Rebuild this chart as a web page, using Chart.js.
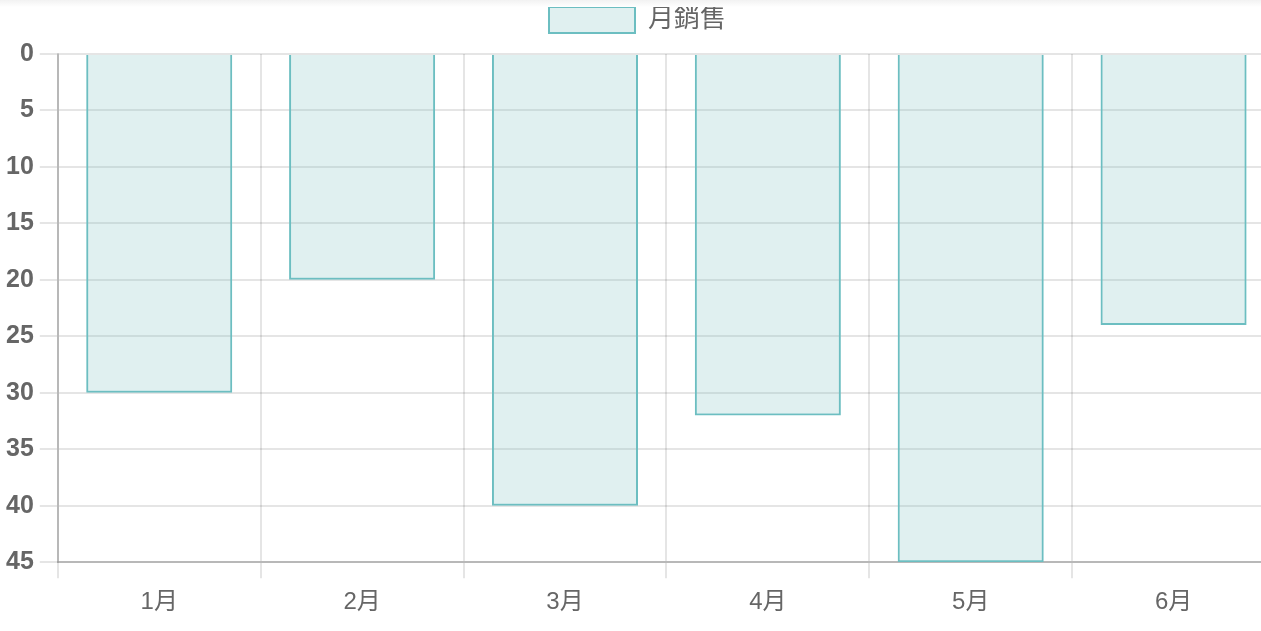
<!DOCTYPE html>
<html>
<head>
<meta charset="utf-8">
<script src="https://cdn.jsdelivr.net/npm/chart.js@4/dist/chart.umd.min.js"></script>
<style>
  html, body { margin: 0; padding: 0; background: #fff; overflow: hidden; }
  #wrap { position: absolute; left: 0; top: 0; width: 1275px; height: 631px; }
  #shade { position: absolute; left: 0; top: 0; width: 100%; height: 7px;
           background: linear-gradient(#f2f2f2, #fff); z-index: 2; }
</style>
</head>
<body>
<div id="shade"></div>
<div id="wrap"><canvas id="chart"></canvas></div>
<script>
// 月銷售 data
const labels = ['1月', '2月', '3月', '4月', '5月', '6月'];
const sales = [30, 20, 40, 32, 45, 24];
const seriesName = '月銷售';

const fontFamily = '"Liberation Sans", Arial, "Noto Sans CJK TC", sans-serif';

// extra gap under the legend, without moving the legend itself
const legendGap = {
  id: 'legendGap',
  beforeInit(chart) {
    const fit = chart.legend.fit;
    chart.legend.fit = function () {
      fit.bind(chart.legend)();
      this.height += 11;
    };
  }
};

const ctx = document.getElementById('chart').getContext('2d');
const chart = new Chart(ctx, {
  type: 'bar',
  data: {
    labels: labels,
    datasets: [{
      label: seriesName,
      data: sales,
      backgroundColor: 'rgba(100, 180, 180, 0.2)',
      borderColor: 'rgb(108, 190, 193)',
      borderWidth: 2
    }]
  },
  options: {
    responsive: true,
    maintainAspectRatio: false,
    animation: false,
    layout: { padding: { left: 0, top: 0, bottom: 4 } },
    plugins: {
      legend: {
        labels: {
          font: { family: fontFamily, size: 26 },
          color: '#666',
          boxWidth: 86,
          boxHeight: 26,
          padding: 7
        }
      },
      tooltip: { enabled: false }
    },
    scales: {
      x: {
        grid: { tickLength: 16, color: 'rgba(0,0,0,0.1)', lineWidth: 2 },
        border: { color: 'rgba(0,0,0,0.2)', width: 2 },
        ticks: { font: { family: fontFamily, size: 24 }, color: '#666', padding: 10 }
      },
      y: {
        reverse: true,
        beginAtZero: true,
        max: 45,
        grid: { tickLength: 18, color: 'rgba(0,0,0,0.1)', lineWidth: 2 },
        border: { color: 'rgba(0,0,0,0.2)', width: 2 },
        ticks: {
          stepSize: 5,
          font: { family: fontFamily, size: 25, weight: 'bold' },
          color: '#666',
          padding: 6
        }
      }
    }
  },
  plugins: [legendGap]
});
</script>
</body>
</html>
